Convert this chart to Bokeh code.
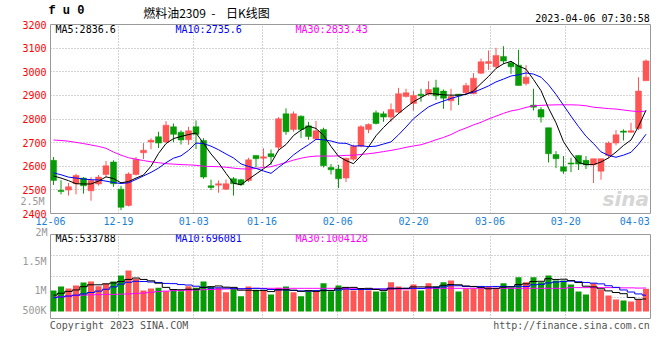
from bokeh.plotting import figure
from bokeh.models import FixedTicker, Label, Range1d, ColumnDataSource, LinearAxis
from bokeh.layouts import column
from bokeh.embed import file_html
from bokeh.resources import INLINE

# ---------------- data ----------------
dates = ["12-06", "12-07", "12-08", "12-09", "12-12", "12-13", "12-14", "12-15", "12-16",
         "12-19", "12-20", "12-21", "12-22", "12-23", "12-26", "12-27", "12-28", "12-29", "12-30",
         "01-03", "01-04", "01-05", "01-06", "01-09", "01-10", "01-11", "01-12", "01-13",
         "01-16", "01-17", "01-18", "01-19", "01-20", "01-30", "01-31", "02-01", "02-02", "02-03",
         "02-06", "02-07", "02-08", "02-09", "02-10", "02-13", "02-14", "02-15", "02-16", "02-17",
         "02-20", "02-21", "02-22", "02-23", "02-24", "02-27", "02-28", "03-01", "03-02", "03-03",
         "03-06", "03-07", "03-08", "03-09", "03-10", "03-13", "03-14", "03-15", "03-16", "03-17",
         "03-20", "03-21", "03-22", "03-23", "03-24", "03-27", "03-28", "03-29", "03-30", "03-31",
         "04-03", "04-04"]

opens = [2625, 2498, 2499, 2526, 2550, 2496, 2525, 2565, 2618, 2503,
         2434, 2565, 2657, 2703, 2725, 2703, 2767, 2744, 2712, 2767,
         2709, 2517, 2520, 2503, 2547, 2543, 2540, 2646, 2634, 2653,
         2680, 2822, 2756, 2812, 2771, 2716, 2756, 2595, 2588, 2550,
         2630, 2685, 2756, 2826, 2822, 2808, 2829, 2895, 2866, 2905,
         2905, 2932, 2918, 2877, 2905, 2911, 2907, 2994, 3035, 3021,
         3065, 3038, 3028, 2950, 2859, 2840, 2763, 2650, 2598, 2614,
         2646, 2625, 2606, 2579, 2646, 2698, 2749, 2744, 2760, 2962]
highs = [2639, 2541, 2529, 2568, 2554, 2554, 2563, 2622, 2625, 2517,
         2574, 2639, 2698, 2718, 2746, 2791, 2781, 2752, 2767, 2794,
         2719, 2543, 2540, 2544, 2554, 2547, 2636, 2647, 2676, 2671,
         2808, 2845, 2832, 2815, 2788, 2792, 2763, 2609, 2606, 2636,
         2691, 2774, 2781, 2836, 2832, 2866, 2932, 2928, 2918, 2928,
         2960, 2966, 2925, 2928, 2906, 2953, 2994, 3056, 3090, 3101,
         3108, 3046, 3093, 3028, 2928, 2850, 2763, 2664, 2643, 2636,
         2646, 2643, 2632, 2632, 2705, 2753, 2756, 2784, 2977, 3052]
lows = [2521, 2481, 2476, 2481, 2484, 2454, 2518, 2554, 2513, 2414,
        2430, 2561, 2630, 2672, 2677, 2699, 2702, 2692, 2691, 2673,
        2547, 2499, 2488, 2499, 2476, 2517, 2533, 2595, 2595, 2606,
        2664, 2733, 2746, 2719, 2712, 2712, 2595, 2565, 2508, 2533,
        2623, 2680, 2740, 2777, 2788, 2788, 2822, 2891, 2836, 2873,
        2898, 2881, 2843, 2836, 2859, 2905, 2905, 2990, 3008, 3014,
        3032, 2991, 2942, 2942, 2836, 2785, 2616, 2592, 2568, 2575,
        2584, 2588, 2529, 2543, 2634, 2689, 2709, 2742, 2753, 2962]
closes = [2540, 2493, 2513, 2561, 2517, 2540, 2554, 2602, 2526, 2426,
          2567, 2629, 2668, 2710, 2698, 2774, 2735, 2711, 2750, 2735,
          2554, 2510, 2526, 2526, 2526, 2522, 2627, 2632, 2640, 2640,
          2801, 2746, 2822, 2756, 2726, 2750, 2602, 2585, 2547, 2634,
          2685, 2767, 2777, 2781, 2808, 2840, 2907, 2911, 2900, 2898,
          2925, 2898, 2888, 2895, 2898, 2942, 2973, 3042, 3043, 3069,
          3045, 3021, 2942, 2977, 2850, 2808, 2653, 2632, 2579, 2609,
          2609, 2606, 2632, 2632, 2698, 2733, 2744, 2750, 2918, 3046]

ma5 = [2559, 2550, 2539, 2526, 2525, 2525, 2537, 2555, 2548, 2530,
       2535, 2550, 2563, 2600, 2654, 2696, 2717, 2726, 2734, 2741,
       2697, 2652, 2615, 2570, 2528, 2522, 2545, 2567, 2589, 2612,
       2668, 2692, 2730, 2753, 2770, 2760, 2731, 2684, 2642, 2624,
       2611, 2644, 2682, 2729, 2764, 2795, 2823, 2849, 2873, 2891,
       2908, 2906, 2902, 2901, 2901, 2904, 2919, 2950, 2980, 3014,
       3034, 3044, 3024, 3011, 2967, 2920, 2846, 2784, 2704, 2656,
       2616, 2607, 2607, 2618, 2635, 2660, 2688, 2711, 2769, 2836.6]
ma10 = [2572, 2564, 2554, 2550, 2546, 2543, 2542, 2537, 2531, 2527,
        2530, 2544, 2559, 2574, 2592, 2615, 2634, 2644, 2667, 2698,
        2696, 2685, 2670, 2652, 2635, 2610, 2599, 2591, 2580, 2570,
        2595, 2619, 2648, 2671, 2691, 2714, 2712, 2707, 2698, 2697,
        2685, 2687, 2683, 2685, 2694, 2703, 2733, 2766, 2801, 2827,
        2851, 2865, 2876, 2887, 2896, 2906, 2913, 2926, 2940, 2957,
        2969, 2982, 2987, 2995, 2990, 2977, 2945, 2904, 2858, 2812,
        2768, 2727, 2696, 2661, 2646, 2638, 2647, 2659, 2693, 2735.6]
ma30 = [2711, 2709, 2706, 2701, 2696, 2690, 2684, 2676, 2660, 2647,
        2636, 2630, 2624, 2619, 2615, 2611, 2609, 2607, 2606, 2604,
        2600, 2599, 2598, 2596, 2592, 2589, 2588, 2591, 2595, 2598,
        2607, 2616, 2626, 2634, 2640, 2643, 2643, 2643, 2644, 2646,
        2647, 2650, 2653, 2657, 2662, 2667, 2673, 2680, 2686, 2691,
        2701, 2712, 2722, 2734, 2750, 2762, 2775, 2786, 2800, 2812,
        2824, 2834, 2840, 2849, 2856, 2858, 2859, 2860, 2860, 2860,
        2859, 2856, 2850, 2847, 2844, 2842, 2838, 2834, 2831, 2833.43]

volumes = [897000, 1068000, 983000, 1111000, 1239000, 1282000, 1083000, 1197000, 1282000, 1538000,
           1752000, 1396000, 897000, 983000, 1011000, 869000, 926000, 869000, 1083000, 1011000,
           1282000, 1068000, 1011000, 826000, 970000, 655000, 1068000, 926000, 897000, 726000,
           1011000, 1068000, 826000, 655000, 869000, 897000, 1211000, 869000, 1111000, 1040000,
           897000, 997000, 897000, 855000, 855000, 1254000, 1068000, 897000, 1154000, 897000,
           1211000, 1068000, 1254000, 1325000, 855000, 970000, 970000, 970000, 1068000, 970000,
           1211000, 1011000, 1467000, 1254000, 1467000, 1254000, 1538000, 1325000, 1325000, 1154000,
           855000, 726000, 1211000, 926000, 684000, 513000, 470000, 427000, 513000, 970000]
vol_ma5_m = [0.70, 0.78, 0.86, 0.92, 1.06, 1.14, 1.14, 1.18, 1.22, 1.28,
             1.37, 1.43, 1.37, 1.31, 1.21, 1.03, 0.94, 0.93, 0.95, 0.95,
             1.03, 1.06, 1.09, 1.04, 1.03, 0.91, 0.91, 0.89, 0.90, 0.85,
             0.93, 0.93, 0.91, 0.86, 0.89, 0.86, 0.89, 0.90, 0.99, 1.03,
             1.03, 0.98, 0.99, 0.94, 0.90, 0.97, 0.99, 0.99, 1.05, 1.05,
             1.05, 1.05, 1.12, 1.15, 1.14, 1.09, 1.07, 1.02, 0.97, 0.99,
             1.04, 1.05, 1.15, 1.18, 1.28, 1.29, 1.40, 1.37, 1.38, 1.32,
             1.24, 1.08, 1.05, 0.97, 0.88, 0.81, 0.76, 0.60, 0.52, 0.533788]
vol_ma10_m = [0.59, 0.62, 0.66, 0.70, 0.75, 0.81, 0.87, 0.95, 1.05, 1.17,
              1.25, 1.29, 1.28, 1.26, 1.24, 1.20, 1.19, 1.15, 1.13, 1.08,
              1.03, 1.00, 1.01, 1.00, 0.99, 0.97, 0.98, 0.99, 0.97, 0.94,
              0.92, 0.92, 0.90, 0.88, 0.87, 0.89, 0.91, 0.90, 0.92, 0.96,
              0.94, 0.94, 0.94, 0.96, 0.96, 1.00, 0.98, 0.99, 0.99, 0.98,
              1.01, 1.02, 1.05, 1.10, 1.10, 1.07, 1.06, 1.07, 1.06, 1.07,
              1.07, 1.06, 1.08, 1.07, 1.14, 1.16, 1.22, 1.26, 1.28, 1.30,
              1.27, 1.24, 1.21, 1.18, 1.10, 1.03, 0.92, 0.83, 0.75, 0.696081]
vol_ma30_m = [0.61, 0.63, 0.66, 0.68, 0.70, 0.71, 0.72, 0.73, 0.73, 0.74,
              0.75, 0.77, 0.79, 0.82, 0.85, 0.87, 0.89, 0.90, 0.91, 0.92,
              0.93, 0.94, 0.95, 0.96, 0.97, 0.97, 0.98, 0.99, 0.99, 0.99,
              0.99, 0.99, 0.99, 0.99, 0.99, 0.99, 0.99, 0.99, 0.99, 0.99,
              0.99, 0.96, 0.96, 0.96, 0.96, 0.96, 0.96, 0.96, 0.99, 0.99,
              0.99, 0.99, 0.99, 0.99, 0.99, 0.99, 0.99, 0.99, 0.99, 0.99,
              0.99, 0.99, 0.99, 0.99, 0.99, 0.99, 0.99, 0.99, 0.99, 1.02,
              1.02, 1.02, 1.02, 1.02, 1.02, 1.02, 1.01, 1.01, 1.00, 1.004128]

price_ticks = [2400, 2500, 2600, 2700, 2800, 2900, 3000, 3100, 3200]
date_labels = ["12-06", "12-19", "01-03", "01-16", "02-06", "02-20", "03-06", "03-20", "04-03"]
vol_tick_labels = ["500K", "1M", "1.5M", "2M", "2.5M"]
title_code = "f u 0"
title_text = "燃料油2309\u00a0\u00a0-\u00a0\u00a0\u00a0\u00a0日K线图"
timestamp = "2023-04-06 07:30:58"
footer_texts = ["Copyright 2023 SINA.COM", "http://finance.sina.com.cn"]

# ---------------- style / layout ----------------
RED = "#ff5555"
GREEN = "#089b08"
GRIDC = "#a8a8a8"
MONO = "DejaVu Sans Mono"
W = 660

n = len(closes)
xs = list(range(n))
cols = [RED if c >= o else GREEN for o, c in zip(opens, closes)]
src = ColumnDataSource(dict(
    x=xs, o=opens, h=highs, l=lows, c=closes,
    top=[max(o, c) for o, c in zip(opens, closes)],
    bot=[min(o, c) for o, c in zip(opens, closes)],
    col=cols, vol=volumes,
    vm5=[v * 1e6 for v in vol_ma5_m], vm10=[v * 1e6 for v in vol_ma10_m],
    vm30=[v * 1e6 for v in vol_ma30_m],
    ma5=ma5, ma10=ma10, ma30=ma30))

# tick / grid / text positions along the candle axis (layout only)
label_pos = [-0.39, 8.66, 18.7, 27.8, 37.9, 48.0, 58.2, 68.3, 77.5]
grid_pos = label_pos[1:-1]
xr = Range1d(-0.4, 79.6)


def style_axis(ax, color, size="10px", standoff=3, font=MONO, fstyle="normal"):
    ax.major_label_text_color = color
    ax.major_label_text_font = font
    ax.major_label_text_font_size = size
    ax.major_label_text_font_style = fstyle
    ax.major_label_standoff = standoff
    ax.axis_line_color = None
    ax.major_tick_line_color = None
    ax.minor_tick_line_color = None
    ax.major_tick_out = 0
    ax.major_tick_in = 0
    ax.minor_tick_out = 0
    ax.minor_tick_in = 0


def text_axis(positions, texts, color, size, standoff, font=MONO, fstyle="normal"):
    ax = LinearAxis(ticker=FixedTicker(ticks=positions),
                    major_label_overrides={pos: t for pos, t in zip(positions, texts)})
    style_axis(ax, color, size=size, standoff=standoff, font=font, fstyle=fstyle)
    return ax


def lab(fig, x, y, text, color="#000000", size="10px", font=MONO, align="left",
        baseline="middle", style="normal", side=None):
    l = Label(x=x, y=y, text=text, text_color=color, text_font_size=size,
              text_font=font, text_align=align, text_baseline=baseline,
              text_font_style=style)
    if side is None:
        fig.add_layout(l)
    else:
        fig.add_layout(l, side)


# ---------- price panel ----------
p = figure(width=W, height=228, x_range=xr, y_range=Range1d(2400, 3200),
           output_backend="svg", toolbar_location=None,
           min_border_left=50, min_border_right=10, min_border_top=19, min_border_bottom=15,
           background_fill_color="white", border_fill_color="white",
           outline_line_color="#999999", outline_line_width=1)

p.segment(x0="x", x1="x", y0="l", y1="h", color="col", line_width=1, source=src)
p.vbar(x="x", top="top", bottom="bot", width=0.8, fill_color="col", line_color="col",
       line_width=0.5, source=src)
p.line("x", "ma30", color="#ff00ff", line_width=1, source=src)
p.line("x", "ma10", color="#0000ff", line_width=1, source=src)
p.line("x", "ma5", color="#000000", line_width=1, source=src)

p.yaxis.ticker = FixedTicker(ticks=price_ticks)
style_axis(p.yaxis[0], "#ff0000", standoff=4)
# grey volume-scale label that sits beside the price panel (folded back next to the frame)
p.add_layout(text_axis([2450], [vol_tick_labels[4]], "#999999", "10px", -25), "left")

p.xaxis.ticker = FixedTicker(ticks=label_pos)
p.xaxis.major_label_overrides = {pos: t for pos, t in zip(label_pos, date_labels)}
style_axis(p.xaxis[0], "#1a7fd6", standoff=3)

# header line: three text rows folded onto one line above the frame
p.add_layout(text_axis([71.87], [timestamp], "#000000", "10px", 1), "above")
p.add_layout(text_axis([20.4], [title_text], "#000000", "12px", -11,
                       font="Noto Sans CJK SC"), "above")
p.add_layout(text_axis([1.73], [title_code], "#000000", "12px", -17,
                       font="Liberation Mono", fstyle="bold"), "above")

p.xgrid.ticker = FixedTicker(ticks=grid_pos)
for g in (p.xgrid, p.ygrid):
    g.grid_line_color = GRIDC
    g.grid_line_dash = "1 2"
    g.grid_line_width = 1

lab(p, 0.27, 3179, f"MA5:{ma5[-1]}", "#000000")
lab(p, 16.27, 3179, f"MA10:{ma10[-1]}", "#0000ff")
lab(p, 32.27, 3179, f"MA30:{ma30[-1]}", "#ff00ff")
lab(p, 79.4, 2410, "sina", "#d6d6d6", "20px", "DejaVu Sans", align="right",
    baseline="bottom", style="bold italic")

# ---------- volume panel ----------
v = figure(width=W, height=132, x_range=xr, y_range=Range1d(-300000, 3290000),
           output_backend="svg", toolbar_location=None, x_axis_location=None,
           min_border_left=50, min_border_right=10, min_border_top=6, min_border_bottom=42,
           background_fill_color="white", border_fill_color="white",
           outline_line_color="#999999", outline_line_width=1)

v.vbar(x="x", top="vol", bottom=0, width=0.8, fill_color="col", line_color=None, source=src)
v.step("x", "vm30", mode="center", color="#ff00ff", line_width=1, source=src)
v.step("x", "vm10", mode="center", color="#0000ff", line_width=1, source=src)
v.step("x", "vm5", mode="center", color="#000000", line_width=1, source=src)

vol_label_pos = [30000, 885000, 2137000]
v.yaxis.ticker = FixedTicker(ticks=vol_label_pos)
v.yaxis.major_label_overrides = {pos: t for pos, t in zip(vol_label_pos, vol_tick_labels[:3])}
style_axis(v.yaxis[0], "#999999", standoff=4)

v.add_layout(text_axis([8.73, 69.07], footer_texts, "#555555", "10px", 1), "below")

v.ygrid.ticker = FixedTicker(ticks=[598000, 1496000, 2393000])
v.xgrid.ticker = FixedTicker(ticks=grid_pos)
for g in (v.xgrid, v.ygrid):
    g.grid_line_color = GRIDC
    g.grid_line_dash = "1 2"
    g.grid_line_width = 1

# "2M" sits above the volume frame; a label in the bottom side panel is drawn unclipped
lab(v, -0.8, 3355000, vol_tick_labels[3], "#999999", align="right", side="below")
lab(v, 0.27, 3107000, f"MA5:{round(vol_ma5_m[-1] * 1e6)}", "#000000")
lab(v, 16.27, 3107000, f"MA10:{round(vol_ma10_m[-1] * 1e6)}", "#0000ff")
lab(v, 32.27, 3107000, f"MA30:{round(vol_ma30_m[-1] * 1e6)}", "#ff00ff")

layout = column(p, v, spacing=0)
open("out.html", "w").write(file_html(layout, INLINE))
